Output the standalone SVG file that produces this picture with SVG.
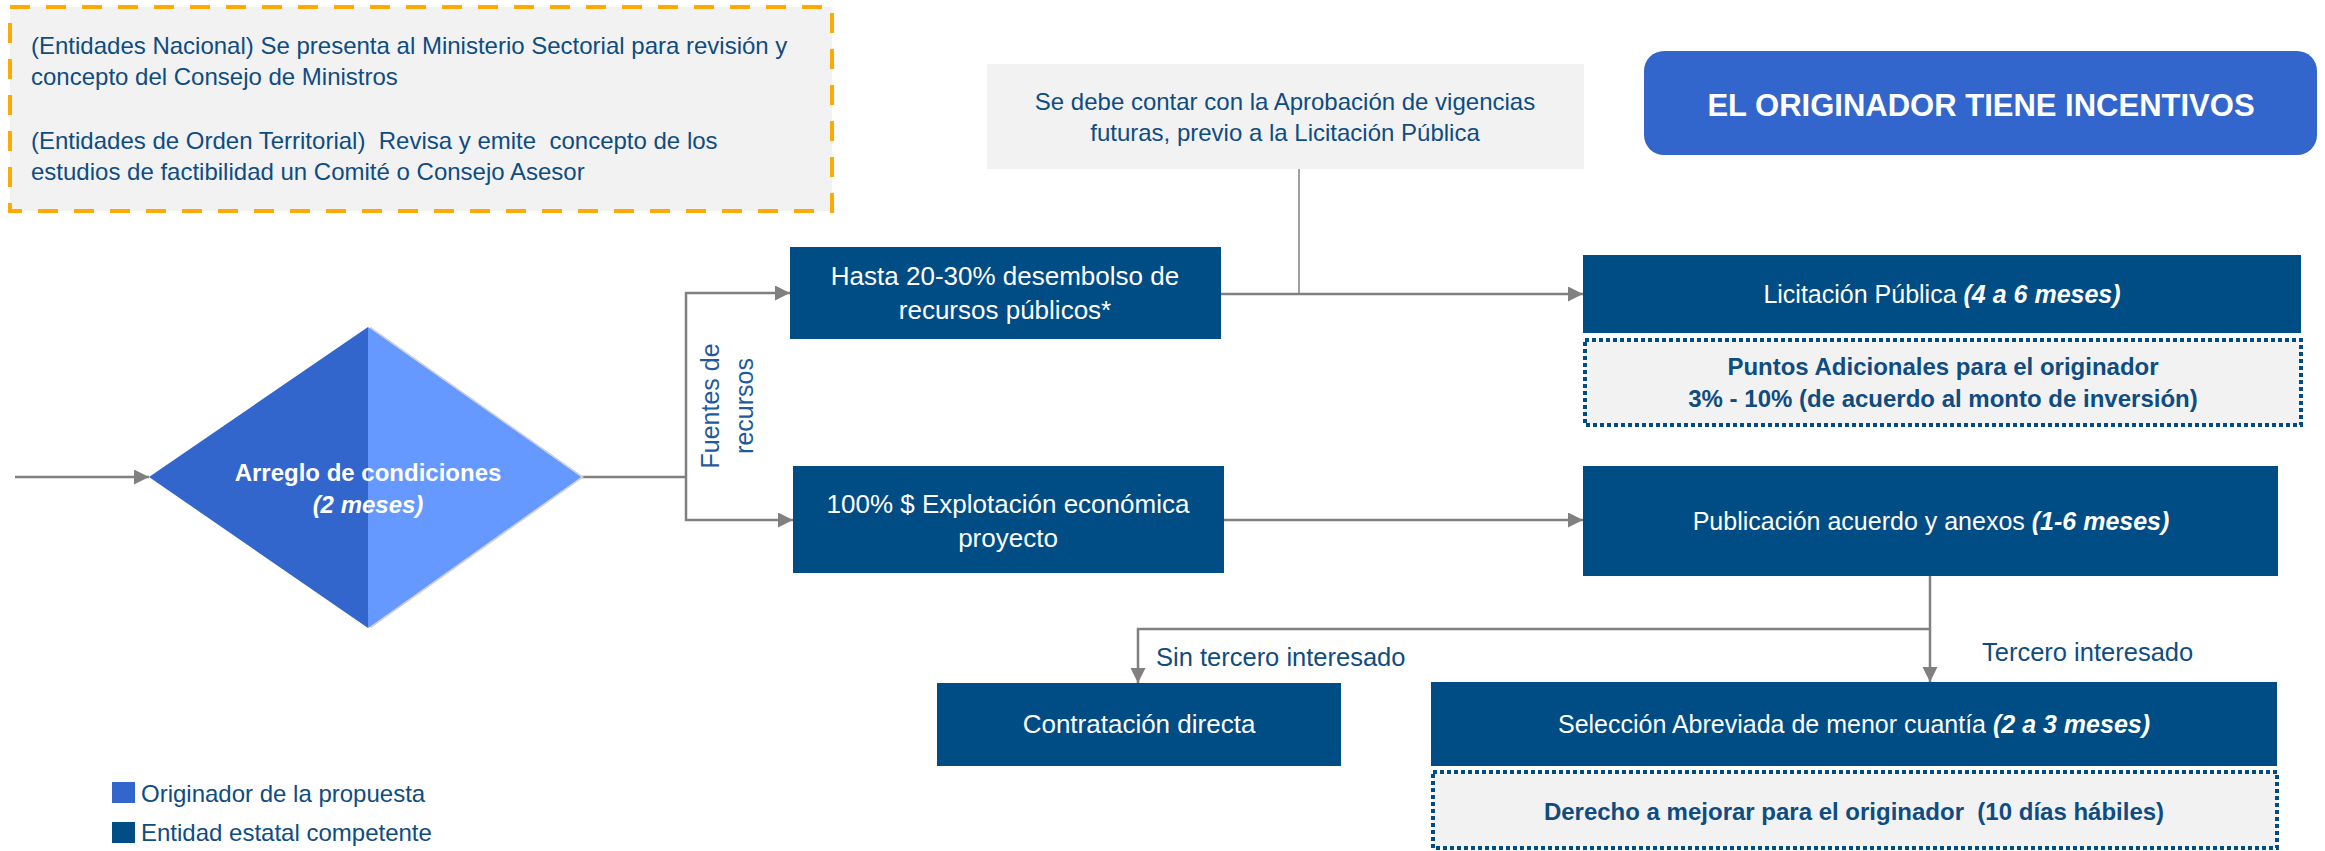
<svg xmlns="http://www.w3.org/2000/svg" width="2325" height="851" viewBox="0 0 2325 851">
<style>
text{font-family:"Liberation Sans",Arial,sans-serif;}
.lt{font-size:24px;fill:#0F4C81;}
.lb{font-size:25.5px;fill:#0F4C81;}
.bx{font-size:25px;fill:#ffffff;}
.bx2{font-size:26px;fill:#ffffff;}
.wb{font-size:24px;fill:#ffffff;font-weight:bold;}
.db{font-size:24px;fill:#0F4C81;font-weight:bold;white-space:pre;}
.bi{font-weight:bold;font-style:italic;}
.dark{fill:#004C85;}
.gray{fill:#F2F2F2;}
.conn{fill:none;stroke:#808080;stroke-width:2.5;}
.dot{fill:#F2F2F2;stroke:#004C85;stroke-width:4;stroke-dasharray:4 3;}
</style>
<defs>
<marker id="arr" markerUnits="userSpaceOnUse" markerWidth="16" markerHeight="16" refX="15" refY="7.5" orient="auto">
<path d="M0,0 L15,7.5 L0,15 z" fill="#808080"/>
</marker>
</defs>
<rect width="2325" height="851" fill="#ffffff"/>

<g id="nota-entidades">
<rect x="10" y="7" width="822" height="204" fill="#F2F2F2" stroke="#FFAA00" stroke-width="4" stroke-dasharray="20 16"/>
<text class="lt" x="31" y="54">(Entidades Nacional) Se presenta al Ministerio Sectorial para revisión y</text>
<text class="lt" x="31" y="85">concepto del Consejo de Ministros</text>
<text class="lt" x="31" y="149" style="white-space:pre">(Entidades de Orden Territorial)  Revisa y emite  concepto de los</text>
<text class="lt" x="31" y="180">estudios de factibilidad un Comité o Consejo Asesor</text>
</g>

<g id="nota-vigencias">
<rect class="gray" x="987" y="64" width="597" height="105"/>
<text class="lt" x="1285" y="110" text-anchor="middle">Se debe contar con la Aprobación de vigencias</text>
<text class="lt" x="1285" y="141" text-anchor="middle">futuras, previo a la Licitación Pública</text>
</g>

<g id="incentivos">
<rect x="1644" y="51" width="673" height="104" rx="20" fill="#3366CC"/>
<text x="1981" y="116" text-anchor="middle" font-size="31" font-weight="bold" fill="#ffffff">EL ORIGINADOR TIENE INCENTIVOS</text>
</g>

<g id="connectors">
<line class="conn" x1="15" y1="477" x2="149" y2="477" marker-end="url(#arr)"/>
<polyline class="conn" points="581,477 686,477"/>
<polyline class="conn" points="686,477 686,293 790,293" marker-end="url(#arr)"/>
<polyline class="conn" points="686,477 686,520 793,520" marker-end="url(#arr)"/>
<line x1="1299" y1="169" x2="1299" y2="294" stroke="#808080" stroke-width="1.5"/>
<line class="conn" x1="1221" y1="294" x2="1583" y2="294" stroke-width="3" marker-end="url(#arr)"/>
<line class="conn" x1="1224" y1="520" x2="1583" y2="520" stroke-width="3" marker-end="url(#arr)"/>
<line class="conn" x1="1930" y1="576" x2="1930" y2="682" marker-end="url(#arr)"/>
<polyline class="conn" points="1930,629 1138,629 1138,683" marker-end="url(#arr)"/>
<text transform="translate(719,406) rotate(-90)" text-anchor="middle" font-size="25" fill="#1F5B9A">Fuentes de</text>
<text transform="translate(753,406) rotate(-90)" text-anchor="middle" font-size="25" fill="#1F5B9A">recursos</text>
<text class="lb" x="1156" y="666">Sin tercero interesado</text>
<text class="lb" x="1982" y="661">Tercero interesado</text>
</g>

<g id="arreglo">
<polygon points="152,477 371,327 584,477 371,628" fill="#D0D0D0"/>
<polygon points="149,477 368,327 368,628" fill="#3366CC"/>
<polygon points="368,327 581,477 368,628" fill="#6699FF"/>
<text class="wb" x="368" y="481" text-anchor="middle">Arreglo de condiciones</text>
<text class="wb bi" x="368" y="513" text-anchor="middle">(2 meses)</text>
</g>

<g id="desembolso">
<rect class="dark" x="790" y="247" width="431" height="92"/>
<text class="bx2" x="1005" y="285" text-anchor="middle">Hasta 20-30% desembolso de</text>
<text class="bx2" x="1005" y="319" text-anchor="middle">recursos públicos*</text>
</g>

<g id="explotacion">
<rect class="dark" x="793" y="466" width="431" height="107"/>
<text class="bx2" x="1008" y="513" text-anchor="middle">100% $ Explotación económica</text>
<text class="bx2" x="1008" y="547" text-anchor="middle">proyecto</text>
</g>

<g id="licitacion">
<rect class="dark" x="1583" y="255" width="718" height="78"/>
<text class="bx" x="1942" y="303" text-anchor="middle">Licitación Pública <tspan class="bi">(4 a 6 meses)</tspan></text>
</g>

<g id="puntos">
<rect class="dot" x="1585" y="340" width="716" height="85"/>
<text class="db" x="1943" y="375" text-anchor="middle">Puntos Adicionales para el originador</text>
<text class="db" x="1943" y="407" text-anchor="middle">3% - 10% (de acuerdo al monto de inversión)</text>
</g>

<g id="publicacion">
<rect class="dark" x="1583" y="466" width="695" height="110"/>
<text class="bx" x="1931" y="530" text-anchor="middle">Publicación acuerdo y anexos <tspan class="bi">(1-6 meses)</tspan></text>
</g>

<g id="contratacion">
<rect class="dark" x="937" y="683" width="404" height="83"/>
<text class="bx2" x="1139" y="733" text-anchor="middle" font-size="27">Contratación directa</text>
</g>

<g id="seleccion">
<rect class="dark" x="1431" y="682" width="846" height="84"/>
<text class="bx" x="1854" y="733" text-anchor="middle">Selección Abreviada de menor cuantía <tspan class="bi">(2 a 3 meses)</tspan></text>
</g>

<g id="derecho">
<rect class="dot" x="1433" y="772" width="844" height="76"/>
<text class="db" x="1854" y="820" text-anchor="middle">Derecho a mejorar para el originador  (10 días hábiles)</text>
</g>

<g id="leyenda">
<rect x="112" y="782" width="23" height="21" fill="#3366CC"/>
<text class="lt" x="141" y="802">Originador de la propuesta</text>
<rect x="112" y="822" width="23" height="21" fill="#004C85"/>
<text class="lt" x="141" y="841">Entidad estatal competente</text>
</g>
</svg>
